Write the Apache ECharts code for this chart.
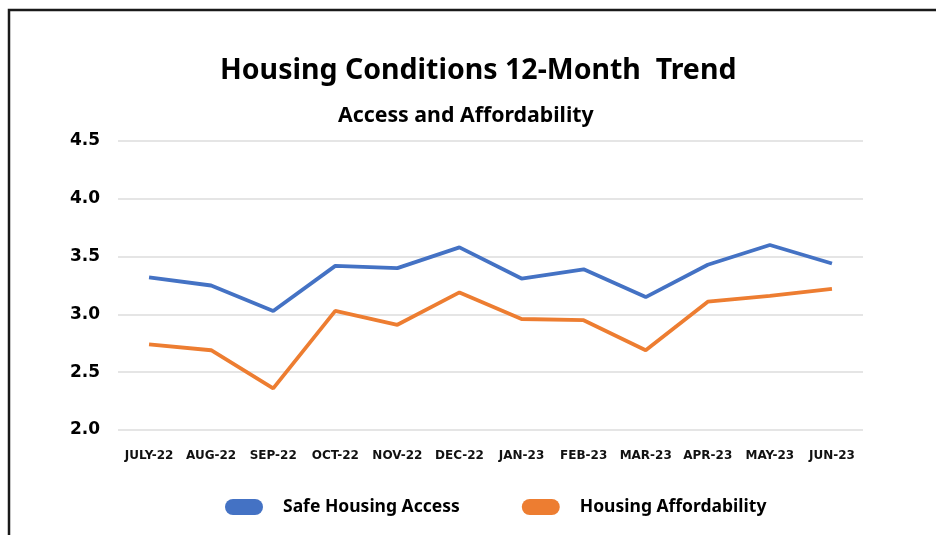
<!DOCTYPE html>
<html>
<head>
<meta charset="utf-8">
<script src="https://cdn.jsdelivr.net/npm/echarts@6/dist/echarts.min.js"></script>
<style>html,body{margin:0;padding:0;background:#fff;}#c{width:936px;height:535px;}</style>
</head>
<body>
<div id="c"></div>
<script>
const categories = ['JULY-22','AUG-22','SEP-22','OCT-22','NOV-22','DEC-22','JAN-23','FEB-23','MAR-23','APR-23','MAY-23','JUN-23'];
const safeAccess = [3.32, 3.25, 3.03, 3.42, 3.40, 3.58, 3.31, 3.39, 3.15, 3.43, 3.60, 3.44];
const affordability = [2.74, 2.69, 2.36, 3.03, 2.91, 3.19, 2.96, 2.95, 2.69, 3.11, 3.16, 3.22];
const seriesNames = ['Safe Housing Access', 'Housing Affordability'];
const titleText = 'Housing Conditions 12-Month  Trend';
const subtitleText = 'Access and Affordability';

const chart = echarts.init(document.getElementById('c'));
const pill = 'path://M8,0 H30 A8,8 0 0 1 30,16 H8 A8,8 0 0 1 8,0 Z';
chart.setOption({
  animation: false,
  backgroundColor: '#fff',
  title: [
    {text: titleText, left: 215, top: 51, textStyle: {fontFamily: 'Noto Sans', fontWeight: 'bold', fontSize: 28.5, color: '#000'}},
    {text: subtitleText, left: 333, top: 100, textStyle: {fontFamily: 'Noto Sans', fontWeight: 'bold', fontSize: 21.3, color: '#000'}}
  ],
  graphic: [{type: 'rect', shape: {x: 9, y: 10, width: 1200, height: 1200}, style: {fill: 'none', stroke: '#1a1a1a', lineWidth: 2.5}, silent: true}],
  legend: {
    bottom: 14, left: 220, itemWidth: 38, itemHeight: 17, itemGap: 62,
    textStyle: {fontFamily: 'Noto Sans', fontWeight: 'bold', fontSize: 17.5, color: '#000', padding: [0,0,0,15]},
    data: [
      {name: seriesNames[0], icon: pill},
      {name: seriesNames[1], icon: pill}
    ]
  },
  grid: {left: 118, right: 73, top: 141, bottom: 105},
  xAxis: {
    type: 'category', data: categories, boundaryGap: true,
    axisLine: {show: false}, axisTick: {show: false},
    axisLabel: {fontFamily: 'DejaVu Sans', fontWeight: 'bold', fontSize: 12, color: '#111', margin: 20, interval: 0}
  },
  yAxis: {
    type: 'value', min: 2.0, max: 4.5, interval: 0.5,
    axisLine: {show: false}, axisTick: {show: false},
    splitLine: {lineStyle: {color: '#dcdcdc', width: 1.5}},
    axisLabel: {fontFamily: 'DejaVu Sans', fontWeight: 'bold', fontSize: 17, color: '#000', margin: 18, formatter: v => v.toFixed(1)}
  },
  series: [
    {name: seriesNames[0], type: 'line', data: safeAccess, symbol: 'none', color: '#4472C4', lineStyle: {width: 3.8, color: '#4472C4'}, itemStyle: {color: '#4472C4'}},
    {name: seriesNames[1], type: 'line', data: affordability, symbol: 'none', color: '#ED7D31', lineStyle: {width: 3.8, color: '#ED7D31'}, itemStyle: {color: '#ED7D31'}}
  ]
});
</script>
</body>
</html>
